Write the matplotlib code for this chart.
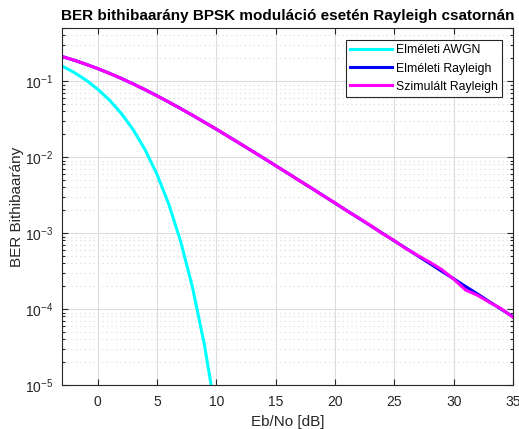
import matplotlib
matplotlib.use("Agg")
import matplotlib.pyplot as plt
from matplotlib.ticker import LogLocator, NullFormatter

plt.rcParams["font.family"] = ["Liberation Sans", "DejaVu Sans"]
plt.rcParams["mathtext.default"] = "regular"

# --- Data: BER vs Eb/No, 1 dB steps ---
ebno_db = list(range(-3, 36))

ber_awgn = [0.1584, 0.1306, 0.1038, 0.0786, 0.0563, 0.0375, 0.0229, 0.0125,
            0.00595, 0.00239, 0.000773, 0.000191, 3.36e-5, 3.87e-6]

ber_rayleigh = [0.2111, 0.1890, 0.1673, 0.1464, 0.1267, 0.1085, 0.0919, 0.0771,
                0.0642, 0.0530, 0.0435, 0.0355, 0.0288, 0.0233, 0.01875, 0.01506,
                0.01208, 0.00967, 0.00772, 0.00616, 0.00491, 0.00392, 0.00312,
                0.00248, 0.00197, 0.00157, 0.00125, 0.000992, 0.000789, 0.000627,
                0.000498, 0.000396, 0.000314, 0.000250, 0.000198, 0.000158,
                0.000125, 0.0000995, 0.0000790]

ber_sim = [0.2105, 0.1893, 0.1670, 0.1466, 0.1265, 0.1087, 0.0917, 0.0773,
           0.0641, 0.0531, 0.0434, 0.0356, 0.0287, 0.0234, 0.01870, 0.01510,
           0.01205, 0.00970, 0.00770, 0.00618, 0.00489, 0.00394, 0.00310,
           0.00250, 0.00196, 0.00158, 0.00126, 0.000985, 0.000795, 0.000620,
           0.000505, 0.000412, 0.000330, 0.000248, 0.000178, 0.000152,
           0.000123, 0.000101, 0.0000780]

# --- Plot ---
fig = plt.figure(figsize=(5.19, 4.29), dpi=100)
ax = fig.add_axes([0.1195, 0.1026, 0.869, 0.832])

ax.semilogy(ebno_db[:len(ber_awgn)], ber_awgn, color="#00ffff", lw=2.2,
            label="Elméleti AWGN")
ax.semilogy(ebno_db, ber_rayleigh, color="#0000ff", lw=2.2,
            label="Elméleti Rayleigh")
ax.semilogy(ebno_db, ber_sim, color="#ff00ff", lw=2.2,
            label="Szimulált Rayleigh")

ax.set_xlim(-3, 35)
ax.set_ylim(1e-5, 0.5)
ax.set_xticks(range(0, 36, 5))
ax.yaxis.set_major_locator(LogLocator(base=10, numticks=10))
ax.yaxis.set_minor_locator(LogLocator(base=10, subs=range(2, 10), numticks=20))
ax.yaxis.set_minor_formatter(NullFormatter())

# MATLAB-like box with inward ticks on all sides
ax.tick_params(which="both", direction="in", top=True, right=True,
               labelsize=10, colors="#262626", width=0.8)
ax.tick_params(which="major", length=4)
ax.tick_params(which="minor", length=2.5)
ax.tick_params(axis="x", pad=7)
ax.tick_params(axis="y", pad=6.5)
for spine in ax.spines.values():
    spine.set_color("#262626")
    spine.set_linewidth(0.8)

ax.grid(True, which="major", color="#dcdcdc", lw=0.8)
ax.grid(True, which="minor", axis="y", color="#d8d8d8", lw=0.8,
        linestyle=(0, (1, 3)))
ax.set_axisbelow(True)

ax.set_xlabel("Eb/No [dB]", fontsize=11, color="#262626", labelpad=4.5)
ax.set_ylabel("BER Bithibaarány", fontsize=11, color="#262626")
ax.yaxis.set_label_coords(-0.084, 0.5)
ax.set_title("BER bithibaarány BPSK moduláció esetén Rayleigh csatornán",
             fontsize=11, fontweight="bold", color="black", pad=6)

leg = ax.legend(loc="upper right", bbox_to_anchor=(0.9756, 0.966),
                borderaxespad=0, fontsize=8.8,
                fancybox=False, framealpha=1, edgecolor="#262626",
                handlelength=3.4, borderpad=0.35, labelspacing=0.5,
                handletextpad=0.35)
leg.get_frame().set_linewidth(0.8)

fig.savefig("out.png", dpi=100)
